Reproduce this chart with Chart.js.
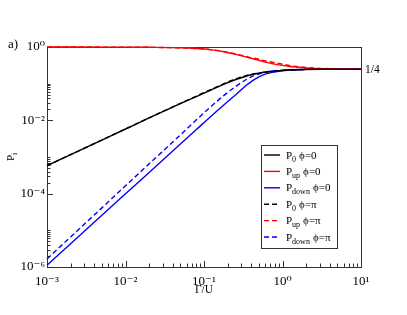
<!DOCTYPE html>
<html><head><meta charset="utf-8">
<script src="https://cdn.jsdelivr.net/npm/chart.js@4/dist/chart.umd.min.js"></script>
<style>html,body{margin:0;padding:0;background:#fff;}canvas{display:block;}</style>
</head><body>
<canvas id="c" width="407" height="315"></canvas>
<script>
// ---- data ----
const gamma = [0.001, 0.002, 0.005, 0.01, 0.02, 0.05, 0.08, 0.12, 0.18, 0.26, 0.35, 0.4, 0.47, 0.55, 0.63, 0.9, 1.25, 2, 3, 5, 10];
const p0Phi0    = [5.8e-4, 1.16e-3, 2.9e-3, 5.8e-3, 0.0116, 0.0285, 0.0445, 0.0656, 0.097, 0.132, 0.162, 0.175, 0.189, 0.2, 0.208, 0.224, 0.235, 0.244, 0.248, 0.25, 0.25];
const pUpPhi0   = [0.999, 0.998, 0.995, 0.99, 0.98, 0.95, 0.91, 0.85, 0.74, 0.62, 0.53, 0.49, 0.45, 0.41, 0.38, 0.325, 0.295, 0.268, 0.256, 0.251, 0.25];
const pDownPhi0 = [1.12e-6, 4.3e-6, 2.57e-5, 9.9e-5, 3.8e-4, 2.25e-3, 5.6e-3, 0.0124, 0.0267, 0.0525, 0.092, 0.114, 0.142, 0.168, 0.187, 0.216, 0.235, 0.246, 0.249, 0.25, 0.25];
const p0PhiPi    = [5.8e-4, 1.16e-3, 2.9e-3, 5.8e-3, 0.0117, 0.029, 0.046, 0.068, 0.1, 0.137, 0.167, 0.179, 0.192, 0.202, 0.21, 0.226, 0.237, 0.245, 0.248, 0.25, 0.25];
const pUpPhiPi   = [0.999, 0.998, 0.995, 0.99, 0.98, 0.95, 0.91, 0.85, 0.75, 0.635, 0.55, 0.51, 0.48, 0.44, 0.41, 0.355, 0.31, 0.278, 0.262, 0.254, 0.25];
const pDownPhiPi = [1.66e-6, 6.6e-6, 4.1e-5, 1.64e-4, 6.5e-4, 4.0e-3, 0.0103, 0.0228, 0.048, 0.087, 0.132, 0.154, 0.176, 0.198, 0.211, 0.231, 0.242, 0.247, 0.249, 0.25, 0.25];
const seriesLabels = ['P_0 ϕ=0', 'P_up ϕ=0', 'P_down ϕ=0', 'P_0 ϕ=π', 'P_up ϕ=π', 'P_down ϕ=π'];
const xTicks = [1e-3, 1e-2, 1e-1, 1, 10];
const yTicks = [1e-6, 1e-4, 1e-2, 1];
const xMinorDecades = [1e-3, 1e-2, 1e-1, 1];
const yMinorDecades = [1e-6, 1e-4, 1e-2];
const xMinorMultipliers = [2, 3, 4, 5, 6, 7, 8, 9];
const yMinorMultipliers = [2, 3, 4, 5, 6, 7, 8, 9, 10];
const xTitle = 'Γ/U';
const yTitleBase = 'P', yTitleSub = 'i';
const panelLabel = 'a)';
const limitLabel = '1/4';
const limitValue = 0.25;

const SERIF = '"Liberation Serif", "DejaVu Serif", serif';
const sup = {'0':'⁰','1':'¹','2':'²','3':'³','4':'⁴','5':'⁵','6':'⁶','7':'⁷','8':'⁸','9':'⁹','-':'⁻'};
function powLabel(v){ const e = Math.round(Math.log10(v)); return '10' + String(e).split('').map(c => sup[c]).join(''); }

const seriesValues = [p0Phi0, pUpPhi0, pDownPhi0, p0PhiPi, pUpPhiPi, pDownPhiPi];
const colors = ['#000000', '#ff0000', '#0000ff', '#000000', '#ff0000', '#0000ff'];
const dashes = [[], [], [], [5, 3], [5, 3], [5, 3]];

const datasets = seriesValues.map((vals, i) => ({
  label: seriesLabels[i],
  data: gamma.map((g, k) => ({x: g, y: vals[k]})),
  borderColor: colors[i],
  borderDash: dashes[i],
  borderWidth: 1.4,
  pointRadius: 0,
  fill: false,
  clip: 3,
  cubicInterpolationMode: 'monotone'
}));

const decor = {
  id: 'decor',
  beforeDatasetsDraw(chart) {
    const ctx = chart.ctx, a = chart.chartArea;
    const xs = chart.scales.x, ys = chart.scales.y;
    ctx.save();
    ctx.strokeStyle = '#333';
    ctx.lineWidth = 1;
    ctx.strokeRect(Math.round(a.left) + 0.5, Math.round(a.top) + 0.5, Math.round(a.right - a.left), Math.round(a.bottom - a.top));
    ctx.beginPath();
    xTicks.forEach(v => { const px = Math.round(xs.getPixelForValue(v)) + 0.5; ctx.moveTo(px, a.bottom); ctx.lineTo(px, a.bottom - 6); });
    xMinorDecades.forEach(d => xMinorMultipliers.forEach(m => { const px = Math.round(xs.getPixelForValue(d * m)) + 0.5; ctx.moveTo(px, a.bottom); ctx.lineTo(px, a.bottom - 3.5); }));
    yTicks.forEach(v => { const py = Math.round(ys.getPixelForValue(v)) + 0.5; ctx.moveTo(a.left, py); ctx.lineTo(a.left + 6, py); });
    yMinorDecades.forEach(d => yMinorMultipliers.forEach(m => { const py = Math.round(ys.getPixelForValue(d * m)) + 0.5; ctx.moveTo(a.left, py); ctx.lineTo(a.left + 3.5, py); }));
    ctx.stroke();
    ctx.restore();
  },
  afterDraw(chart) {
    const ctx = chart.ctx, a = chart.chartArea;
    const ys = chart.scales.y;
    ctx.save();
    ctx.fillStyle = '#000';
    ctx.font = '13px ' + SERIF;
    ctx.textAlign = 'left'; ctx.textBaseline = 'alphabetic';
    ctx.fillText(panelLabel, 8, 48);
    ctx.font = '11.5px ' + SERIF;
    ctx.textBaseline = 'middle';
    ctx.fillText(limitLabel, a.right + 4, ys.getPixelForValue(limitValue) + 0.5);
    ctx.save();
    ctx.translate(14, (a.top + a.bottom) / 2 + 4);
    ctx.rotate(-Math.PI / 2);
    ctx.textBaseline = 'alphabetic';
    ctx.font = '11px ' + SERIF;
    ctx.fillText(yTitleBase, 0, 0);
    const wP = ctx.measureText(yTitleBase).width;
    ctx.font = '8px ' + SERIF;
    ctx.fillText(yTitleSub, wP, 3);
    ctx.restore();

    // legend
    const bx = 261, by = 145, bw = 76, bh = 103;
    ctx.fillStyle = '#fff';
    ctx.fillRect(bx, by, bw, bh);
    ctx.strokeStyle = '#333'; ctx.lineWidth = 1;
    ctx.strokeRect(bx + 0.5, by + 0.5, bw, bh);
    chart.data.datasets.forEach((ds, i) => {
      const y = by + 10 + i * 16.4;
      ctx.save();
      ctx.strokeStyle = ds.borderColor; ctx.lineWidth = 1.4;
      ctx.setLineDash(ds.borderDash || []);
      ctx.beginPath(); ctx.moveTo(bx + 3, y); ctx.lineTo(bx + 19, y); ctx.stroke();
      ctx.restore();
      const m = /^P_(\w+) (.*)$/.exec(ds.label);
      let x = bx + 25;
      ctx.textAlign = 'left'; ctx.textBaseline = 'alphabetic'; ctx.fillStyle = '#000';
      ctx.font = '11px ' + SERIF;
      ctx.fillText('P', x, y + 3.5);
      x += ctx.measureText('P').width;
      ctx.font = '8px ' + SERIF;
      ctx.fillText(m[1], x, y + 6.5);
      x += ctx.measureText(m[1]).width + 3;
      ctx.font = '11px ' + SERIF;
      ctx.fillText(m[2], x, y + 3.5);
    });
    ctx.restore();
  }
};

new Chart(document.getElementById('c'), {
  type: 'line',
  data: { datasets },
  options: {
    responsive: false,
    devicePixelRatio: 1,
    animation: false,
    layout: { padding: { left: 0, right: 46, top: 47, bottom: 0 } },
    plugins: { legend: { display: false }, tooltip: { enabled: false } },
    scales: {
      x: {
        type: 'logarithmic', min: 1e-3, max: 10,
        afterBuildTicks: s => { s.ticks = xTicks.map(v => ({value: v})); },
        afterFit: s => { s.height = 48; },
        grid: { display: false, drawTicks: false },
        border: { display: false },
        ticks: { autoSkip: false, maxRotation: 0, padding: 7, color: '#000', font: { family: SERIF, size: 13 }, callback: v => powLabel(v) },
        title: { display: true, text: xTitle, color: '#000', font: { family: SERIF, size: 11.5 }, padding: { top: 0, bottom: 18 } }
      },
      y: {
        type: 'logarithmic', min: 1e-6, max: 1,
        afterBuildTicks: s => { s.ticks = yTicks.map(v => ({value: v})); },
        afterFit: s => { s.width = 47; },
        grid: { display: false, drawTicks: false },
        border: { display: false },
        ticks: { autoSkip: false, padding: 2, color: '#000', font: { family: SERIF, size: 13 }, callback: v => powLabel(v) }
      }
    }
  },
  plugins: [decor]
});
</script>
</body></html>
